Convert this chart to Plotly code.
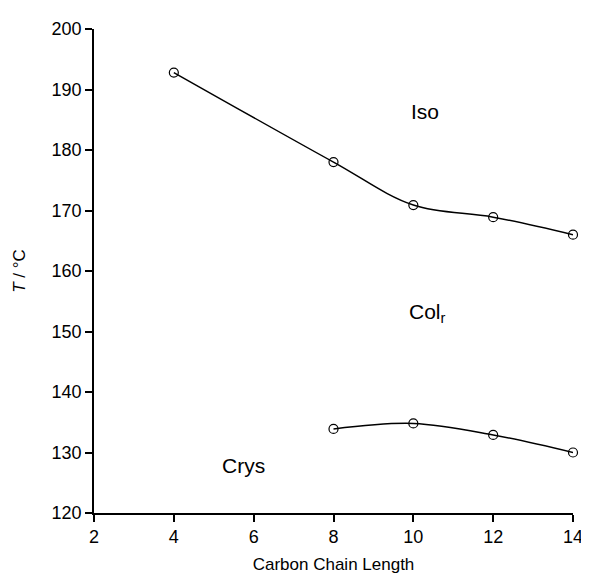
import plotly.graph_objects as go

chain_length = [4, 8, 10, 12, 14]
iso_temp = [192.8, 178.0, 170.9, 168.9, 166.0]
crys_chain = [8, 10, 12, 14]
crys_temp = [133.9, 134.8, 132.9, 130.0]

phase_labels = ["Iso", "Col<sub>r</sub>", "Crys"]
phase_x = [10.3, 10.35, 5.75]
phase_y = [186.3, 153.0, 127.9]

x_ticks = [2, 4, 6, 8, 10, 12, 14]
y_ticks = [120, 130, 140, 150, 160, 170, 180, 190, 200]

font_family = "Liberation Sans, Arial, sans-serif"

fig = go.Figure()
for xs, ys in [(chain_length, iso_temp), (crys_chain, crys_temp)]:
    fig.add_trace(go.Scatter(
        x=xs, y=ys, mode="lines+markers",
        line=dict(color="black", width=1.5, shape="spline", smoothing=1.0),
        marker=dict(symbol="circle-open", size=9, color="black", line=dict(width=1.2)),
        showlegend=False, cliponaxis=False,
    ))

for t, x, y in zip(phase_labels, phase_x, phase_y):
    fig.add_annotation(x=x, y=y, text=t, showarrow=False,
                       font=dict(family=font_family, size=21, color="black"))

fig.update_layout(
    width=581, height=568,
    margin=dict(l=86, r=16, t=21, b=63),
    plot_bgcolor="white", paper_bgcolor="white",
    font=dict(family=font_family, color="black"),
)
fig.update_xaxes(
    range=[2, 14], tickvals=x_ticks, showgrid=False, zeroline=False,
    showline=True, linecolor="black", linewidth=1.5,
    ticks="outside", ticklen=7, tickwidth=1.5, tickcolor="black",
    tickfont=dict(size=18), automargin=False, ticklabeloverflow="allow",
    title=dict(text="Carbon Chain Length", font=dict(size=17), standoff=12),
)
fig.update_yaxes(
    range=[120, 200], tickvals=y_ticks, showgrid=False, zeroline=False,
    showline=True, linecolor="black", linewidth=1.5,
    ticks="outside", ticklen=7, tickwidth=1.5, tickcolor="black",
    tickfont=dict(size=18), automargin=False, ticklabeloverflow="allow",
    title=dict(text="<i>T</i> / °C", font=dict(size=17), standoff=22),
)

fig.write_html("out.html")
